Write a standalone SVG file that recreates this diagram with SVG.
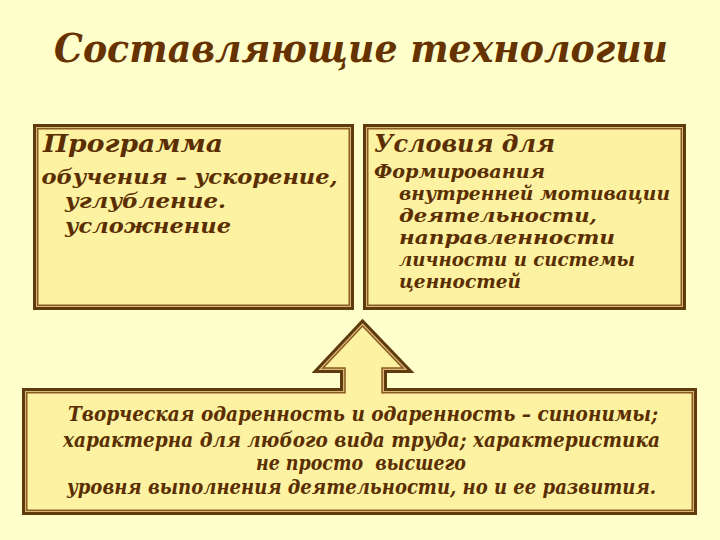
<svg xmlns="http://www.w3.org/2000/svg" width="720" height="540" viewBox="0 0 720 540">
<style>
  .bg { fill: #ffffcc; }
  .outer { fill: #d9b877; stroke: #5e3a0c; stroke-width: 3; }
  .inner { fill: #fcf2a2; stroke: #8a5a22; stroke-width: 1.5; }
  .txt { font-family: "DejaVu Serif", "Liberation Serif", serif; font-style: italic; font-weight: bold; fill: #5a2e00; }
  .title { font-size: 40px; fill: #663300; }
  .head { font-size: 23.5px; }
  .body1 { font-size: 21px; }
  .body2 { font-size: 19px; }
  .body3 { font-size: 20.5px; }
  .arrowDark { fill: none; stroke: #5e3a0c; stroke-width: 3; stroke-linejoin: miter; }
  .arrowInner { fill: none; stroke: #8a5a22; stroke-width: 1.5; stroke-linejoin: miter; }
</style>
<rect class="bg" x="0" y="0" width="720" height="540"/>

<text class="txt title" x="54" y="62" textLength="614" lengthAdjust="spacingAndGlyphs">Составляющие технологии</text>

<g id="program">
  <rect class="outer" x="34.5" y="125.5" width="318" height="183"/>
  <rect class="inner" x="37.75" y="128.75" width="311.5" height="176.5"/>
  <text class="txt head" x="43" y="152" textLength="180" lengthAdjust="spacingAndGlyphs">Программа</text>
  <text class="txt body1" x="41.5" y="184" textLength="296" lengthAdjust="spacingAndGlyphs">обучения – ускорение,</text>
  <text class="txt body1" x="65" y="208" textLength="161" lengthAdjust="spacingAndGlyphs">углубление.</text>
  <text class="txt body1" x="65" y="233" textLength="166" lengthAdjust="spacingAndGlyphs">усложнение</text>
</g>

<g id="conditions">
  <rect class="outer" x="364.5" y="125.5" width="320" height="183"/>
  <rect class="inner" x="367.75" y="128.75" width="313.5" height="176.5"/>
  <text class="txt head" x="374" y="152" textLength="181" lengthAdjust="spacingAndGlyphs">Условия для</text>
  <text class="txt body2" x="374" y="178" textLength="171" lengthAdjust="spacingAndGlyphs">Формирования</text>
  <text class="txt body2" x="399" y="200" textLength="271" lengthAdjust="spacingAndGlyphs">внутренней мотивации</text>
  <text class="txt body2" x="399" y="222" textLength="198" lengthAdjust="spacingAndGlyphs">деятельности,</text>
  <text class="txt body2" x="399" y="244" textLength="216" lengthAdjust="spacingAndGlyphs">направленности</text>
  <text class="txt body2" x="399" y="266" textLength="236" lengthAdjust="spacingAndGlyphs">личности и системы</text>
  <text class="txt body2" x="399" y="288" textLength="122" lengthAdjust="spacingAndGlyphs">ценностей</text>
</g>

<g id="giftedness">
  <rect class="outer" x="23.5" y="389.5" width="672" height="124"/>
  <rect class="inner" x="26.75" y="392.75" width="665.5" height="117.5"/>
  <text class="txt body3" x="68" y="421" textLength="590" lengthAdjust="spacingAndGlyphs">Творческая одаренность и одаренность – синонимы;</text>
  <text class="txt body3" x="63" y="447" textLength="597" lengthAdjust="spacingAndGlyphs">характерна для любого вида труда; характеристика</text>
  <text class="txt body3" x="256" y="470" textLength="210" lengthAdjust="spacingAndGlyphs" xml:space="preserve">не просто  высшего</text>
  <text class="txt body3" x="67" y="494" textLength="589" lengthAdjust="spacingAndGlyphs">уровня выполнения деятельности, но и ее развития.</text>
</g>

<g id="connectors">
  <polygon points="341.5,391 341.5,371.5 315,371.5 362.5,321 411,371.5 385.5,371.5 385.5,391" fill="#d9b877"/>
  <polygon points="345,394 345,368 323.1,368 362.5,326.1 402.8,368 382,368 382,394" fill="#fcf2a2"/>
  <path class="arrowDark" d="M341.5,391 V371.5 H315 L362.5,321 L411,371.5 H385.5 V391"/>
  <path class="arrowInner" d="M345,393.5 V368 H323.1 L362.5,326.1 L402.8,368 H382 V393.5"/>
</g>
</svg>
